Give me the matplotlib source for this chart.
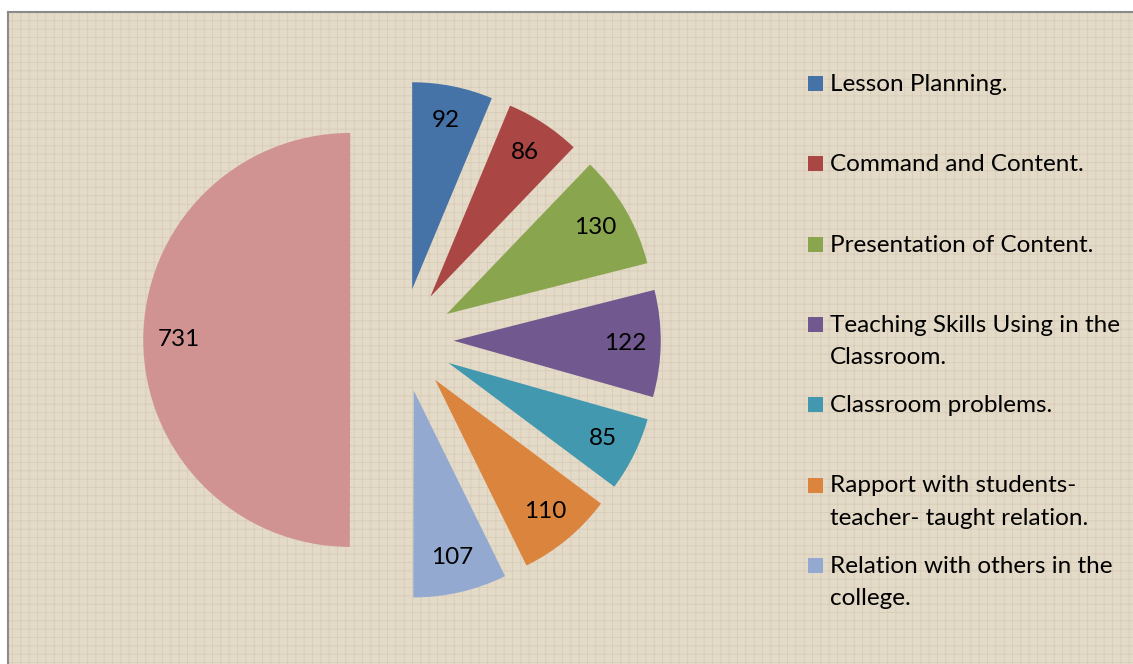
import matplotlib
matplotlib.use("Agg")
from matplotlib import pyplot as plt
from matplotlib.patches import Rectangle

# chart data
categories = ["Lesson Planning.",
              "Command and Content.",
              "Presentation of Content.",
              "Teaching Skills Using in the\nClassroom.",
              "Classroom problems.",
              "Rapport with students-\nteacher- taught relation.",
              "Relation with others in the\ncollege.",
              ""]
values = [92, 86, 130, 122, 85, 110, 107, 731]
colors = ["#4572A7", "#AA4643", "#89A54E", "#71588F",
          "#4198AF", "#DB843D", "#93A9CF", "#D19392"]

W, H = 1133, 664
plt.rcParams["font.family"] = ["Lato", "DejaVu Sans"]
plt.rcParams["hatch.linewidth"] = 0.6
fig = plt.figure(figsize=(W / 100, H / 100), dpi=100, facecolor="white")

# chart area background with a woven look (right/bottom edges run off the image)
bgax = fig.add_axes([7.5 / W, -0.02, 1.05, 1 - 11.5 / H + 0.02], zorder=0)
bgax.set_xticks([])
bgax.set_yticks([])
bgax.set_facecolor("#e4dac8")
bgax.add_patch(Rectangle((0, 0), 1, 1, transform=bgax.transAxes, facecolor="none",
                         edgecolor="#d6ccb8", hatch="++", linewidth=0))
for s in bgax.spines.values():
    s.set_color("#8a8a8a")
    s.set_linewidth(1.5)

# pie axes: centre at (402, 340) px, radius 207 px
R = 207
half = 300
ax = fig.add_axes([(402 - half) / W, (H - 340 - half) / H, 2 * half / W, 2 * half / H], zorder=1)
ax.patch.set_alpha(0)

wedges, texts, autotexts = ax.pie(values, colors=colors, startangle=90, counterclock=False,
                                  explode=[0.25] * len(values), radius=1,
                                  autopct=lambda p: f"{round(p * sum(values) / 100):d}",
                                  pctdistance=0.83,
                                  textprops=dict(fontsize=17.5, color="black"))
ax.set_xlim(-half / R, half / R)
ax.set_ylim(-half / R, half / R)
ax.set_aspect("equal")
ax.axis("off")

# legend drawn manually so each entry starts on an even step
for i, (lab, col) in enumerate(zip(categories[:7], colors[:7])):
    base = 91 + 80.3 * i
    fig.patches.append(Rectangle((808 / W, 1 - base / H), 15 / W, 15 / H,
                                 transform=fig.transFigure, facecolor=col,
                                 edgecolor="none", zorder=3))
    for j, line in enumerate(lab.split("\n")):
        fig.text(830 / W, 1 - (base + 32.5 * j) / H, line, fontsize=17.5,
                 va="baseline", ha="left", color="black", zorder=3)

fig.savefig("out.png", dpi=100, facecolor="white")
